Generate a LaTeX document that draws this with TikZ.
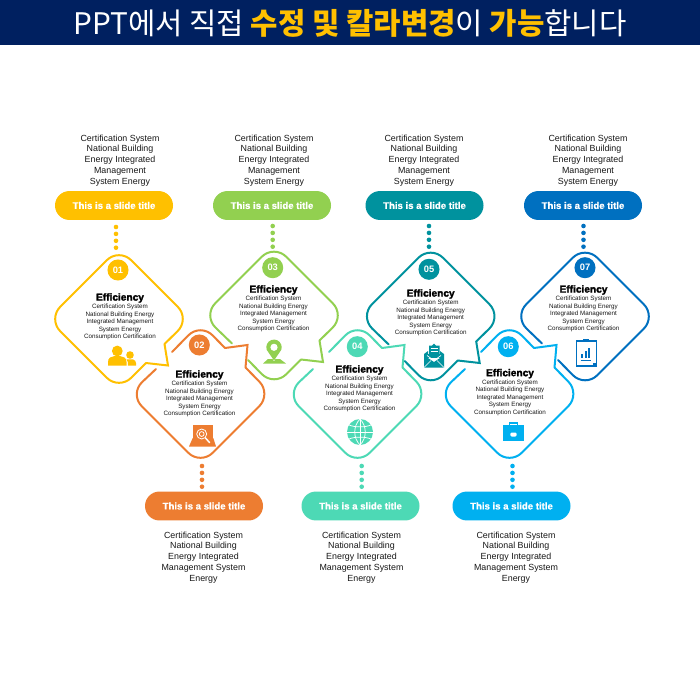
\documentclass[tikz,border=0pt]{standalone}
\usepackage{fontspec}
\usetikzlibrary{shapes.misc}
\setmainfont{Liberation Sans}
\newfontfamily\krfont[BoldFont={Noto Sans CJK KR Black}]{Noto Sans CJK KR}
\newfontfamily\heavyfont[FakeBold=2]{Liberation Sans Bold}
\newfontfamily\pillfont[FakeBold=1]{Liberation Sans Bold}
\definecolor{hdr}{HTML}{002060}
\definecolor{hyel}{HTML}{FFC000}
\definecolor{cA}{HTML}{FFC000}
\definecolor{cB}{HTML}{ED7D31}
\definecolor{cC}{HTML}{92D050}
\definecolor{cD}{HTML}{4DD9B5}
\definecolor{cE}{HTML}{00929E}
\definecolor{cF}{HTML}{00B0F0}
\definecolor{cG}{HTML}{0070C0}
\tikzset{
  lobe/.style={line width=1.5pt,line cap=round,line join=miter},
  rc/.style={rounded corners=13pt},
  pill/.style={rounded rectangle,minimum width=88.5pt,minimum height=21.7pt,inner sep=0pt,text=white,
    font=\pillfont\fontsize{7.2}{9}\selectfont},
  blurb/.style={align=center,inner sep=0pt,font=\fontsize{6.66}{8.06}\selectfont,text=black!90},
  cardhead/.style={inner sep=0pt,font=\heavyfont\fontsize{7.6}{9}\selectfont},
  cardbody/.style={align=center,inner sep=0pt,font=\fontsize{4.7}{5.6}\selectfont,text=black!90},
  badge/.style={circle,minimum size=15.8pt,inner sep=0pt,text=white,font=\bfseries\fontsize{7}{8}\selectfont},
}
\newcommand{\lownotch}[1]{\draw[#1,lobe] (45.5,25) -- (49,46.5) -- (27,44);}
\newcommand{\upnotch}[1]{\draw[#1,lobe] (24.5,-46) -- (47,-49) -- (45,-26.5);}
\newcommand{\upcard}[2]{%
  \begin{scope}[shift={(#2)}]
    \draw[#1,lobe,rc] (45,-26.5) -- (71,0) -- (0,71) -- (-71,0) -- (-44.5,-25);
    \draw[#1,lobe,rc] (-28.5,-42) -- (0,-71) -- (24.5,-46);
    \upnotch{#1}
  \end{scope}}
\newcommand{\gapcard}[2]{%
  \begin{scope}[shift={(#2)}]
    \draw[#1,lobe,rc] (45.5,25) -- (71,0) -- (0,-71) -- (-71,0) -- (-42,28);
    \draw[#1,lobe,rc] (-26,44.5) -- (0,71) -- (27,44);
    \lownotch{#1}
  \end{scope}}
\newcommand{\cardtext}[3]{%
  \node[cardhead] (#1h) at (#2,#3) {Efficiency};
  \path (#2,#3) ++(0,24) node[cardbody] (#1b) {Certification System\\National Building Energy\\Integrated Management\\System Energy\\Consumption Certification};}
\newcommand{\dotrow}[3]{\foreach \k in {0,1,2,3} \fill[#1] (#2,#3+\k*6.9) circle[radius=2.3];}
\begin{document}
\begin{tikzpicture}[x=0.75pt,y=-0.75pt]
\useasboundingbox (0,0) rectangle (700,700);
\fill[white] (0,0) rectangle (700,700);
\fill[hdr] (0,0) rectangle (700,45);
\node[inner sep=0pt,text=white,font=\krfont\fontsize{22.3}{26}\selectfont] (hd) at (350,23.5)
 {PPT에서 직접 \textcolor{hyel}{\bfseries 수정 및 칼라변경}이 \textcolor{hyel}{\bfseries 가능}합니다};

% outlines
\begin{scope}[shift={(119,319)}]
  \draw[cA,lobe,rc] (45.5,25) -- (71,0) -- (0,-71) -- (-71,0) -- (0,71) -- (27,44);
  \lownotch{cA}
\end{scope}
\upcard{cB}{200.5,394}
\gapcard{cC}{274,315.5}
\upcard{cD}{357.5,394}
\gapcard{cE}{430.7,316.5}
\upcard{cF}{509.5,394}
\begin{scope}[shift={(585,316.5)}]
  \draw[cG,lobe,rc] (-43,27) -- (-71,0) -- (0,-71) -- (71,0) -- (0,71) -- (-27,43.5);
\end{scope}

% badges
\node[badge,fill=cA] (n1) at (118,270) {01};
\node[badge,fill=cB] (n2) at (199.3,345) {02};
\node[badge,fill=cC] (n3) at (272.7,267.7) {03};
\node[badge,fill=cD] (n4) at (357.3,346.7) {04};
\node[badge,fill=cE] (n5) at (429,269.3) {05};
\node[badge,fill=cF] (n6) at (508.3,346.7) {06};
\node[badge,fill=cG] (n7) at (585,267.7) {07};

% card text
\cardtext{a}{120}{298}
\cardtext{b}{199.5}{375}
\cardtext{c}{273.5}{290}
\cardtext{d}{359.5}{370}
\cardtext{e}{430.7}{294}
\cardtext{f}{510}{373.6}
\cardtext{g}{583.5}{290}

% pills
\node[pill,fill=cA] (pa) at (114,205.5) {This is a slide title};
\node[pill,fill=cB] (pb) at (204,506) {This is a slide title};
\node[pill,fill=cC] (pc) at (272,205.5) {This is a slide title};
\node[pill,fill=cD] (pd) at (360.5,506) {This is a slide title};
\node[pill,fill=cE] (pe) at (424.5,205.5) {This is a slide title};
\node[pill,fill=cF] (pf) at (511.5,506) {This is a slide title};
\node[pill,fill=cG] (pg) at (583,205.5) {This is a slide title};

% dotted links
\dotrow{cA}{116}{227}
\dotrow{cC}{272.7}{226}
\dotrow{cE}{429}{226}
\dotrow{cG}{583.5}{226}
\dotrow{cB}{202}{466}
\dotrow{cD}{361.7}{466}
\dotrow{cF}{512.5}{466}

% upper blurbs
\foreach \nm/\xx in {ta/120,tc/274,te/424,tg/588}
  \node[blurb] (\nm) at (\xx,160.3) {Certification System\\National Building\\Energy Integrated\\Management\\System Energy};
% lower blurbs
\foreach \nm/\xx in {tb/203.5,td/361.5,tf/516}
  \node[blurb] (\nm) at (\xx,557.3) {Certification System\\National Building\\Energy Integrated\\Management System\\Energy};

% icon: people
\fill[cA] (117.3,351) circle[radius=5.4];
\fill[cA] (108,365.5) -- (108,362) .. controls (108,358) and (111,356.2) .. (114,356.2) -- (120.5,356.2) .. controls (123.5,356.2) and (126.5,358) .. (126.5,362) -- (126.5,365.5) -- cycle;
\fill[cA] (130,355) circle[radius=3.8];
\fill[cA] (127.8,365.5) -- (127.8,362) .. controls (127.8,360.5) and (127,359.8) .. (126.5,359.4) -- (133,359.4) .. controls (134.8,359.8) and (136,361.5) .. (136,363) -- (136,365.5) -- cycle;

% icon: laptop
\fill[cB] (192.7,425) rectangle (213.3,439);
\fill[cB] (192.7,438) -- (213.3,438) -- (216,446.5) -- (189,446.5) -- cycle;
\draw[white,line width=.6pt] (201.7,434) circle[radius=5];
\draw[white,line width=.6pt] (201.7,434) circle[radius=2.4];
\draw[white,line width=1.1pt,line cap=round] (205.5,438) -- (209.5,442.5);

% icon: pin
\fill[cC] (266.76,349.9) arc[start angle=160,end angle=380,radius=7.7] -- (274,360.5) -- cycle;
\fill[white] (274,347.3) circle[radius=3.6];
\fill[cC] (268,359) -- (272.5,359) -- (274,361.5) -- (275.5,359) -- (280,359) -- (286,363.5) -- (263,363.5) -- cycle;

% icon: globe
\fill[cD] (360,432) circle[radius=13];
\begin{scope}[white,line width=.55pt]
  \draw (347,432) -- (373,432);
  \draw (360,419) -- (360,445);
  \draw (360,419) .. controls (353,426) and (353,438) .. (360,445);
  \draw (360,419) .. controls (367,426) and (367,438) .. (360,445);
  \draw (349,425) .. controls (355,427.5) and (365,427.5) .. (371,425);
  \draw (349,439) .. controls (355,436.5) and (365,436.5) .. (371,439);
\end{scope}

% icon: envelope
\fill[cE] (429,345.5) -- (432,345.5) -- (434,343.5) -- (436,345.5) -- (439.5,345.5) -- (439.5,354) -- (429,354) -- cycle;
\draw[white,line width=.6pt] (430.5,348.5) -- (438,348.5) (430.5,351) -- (438,351);
\fill[cE] (424,354) -- (428,351) -- (428,358) -- (434,362) -- (440,358) -- (440,351) -- (444,354) -- (444,367.5) -- (424,367.5) -- cycle;
\draw[white,line width=.5pt] (424,367.5) -- (431,360.5) (444,367.5) -- (437,360.5);
\fill[cE] (428,354) rectangle (440,358);
\draw[white,line width=.5pt] (427,355.5) -- (434,360.5) -- (441,355.5);

% icon: briefcase
\fill[cF] (503.3,425) rectangle (524,441);
\draw[cF,line width=.8pt] (509.7,425) -- (509.7,423) -- (517.3,423) -- (517.3,425);
\fill[white,rounded corners=1pt] (510.3,432.5) rectangle (516.7,436.5);

% icon: clipboard
\draw[cG,line width=1pt] (576.5,341) rectangle (596.5,366);
\fill[cG] (583.3,338.7) rectangle (589,342);
\fill[cG] (592.5,362.5) rectangle (597,366.5);
\fill[cG] (581,353.5) rectangle (583,358);
\fill[cG] (584.5,351) rectangle (586.5,358);
\fill[cG] (588,348) rectangle (590,358);
\draw[cG,line width=.6pt] (580.5,360.3) -- (591,360.3);
\end{tikzpicture}
\end{document}
